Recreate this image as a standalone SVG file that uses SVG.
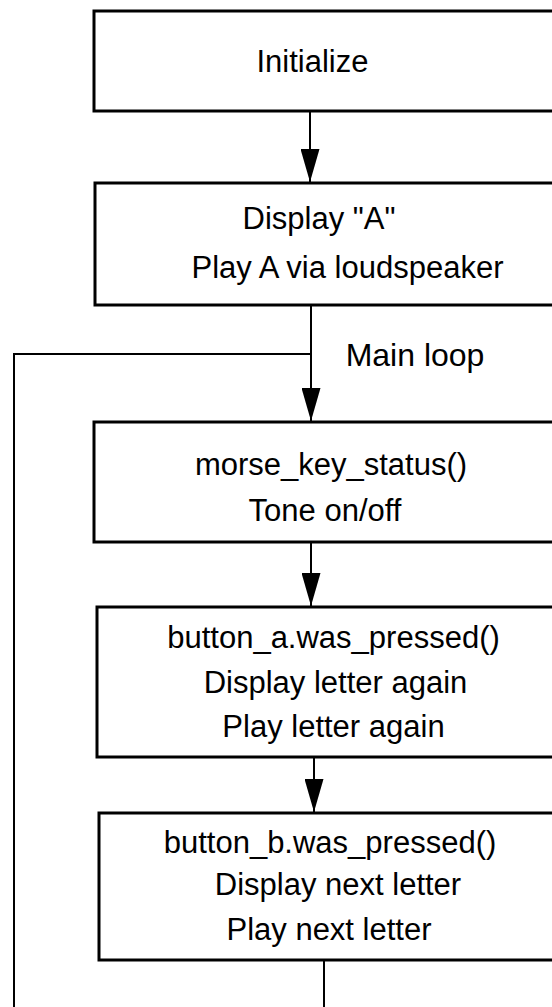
<svg xmlns="http://www.w3.org/2000/svg" width="552" height="1007" viewBox="0 0 552 1007">
  <style>
    .box { fill: #ffffff; stroke: #000000; stroke-width: 3; }
    .lbl { font-family: "Liberation Sans", Arial, sans-serif; font-size: 31px; fill: #000000; text-anchor: middle; }
    .conn { fill: none; stroke: #000000; stroke-width: 2; }
  </style>
  <defs>
    <marker id="arrow" markerUnits="userSpaceOnUse" viewBox="0 0 33 19" refX="33" refY="9.5" markerWidth="33" markerHeight="19" orient="auto">
      <path d="M0,0 L33,9.5 L0,19 Z" fill="#000000"/>
    </marker>
  </defs>
  <rect width="552" height="1007" fill="#ffffff"/>

  <g id="connectors">
    <line class="conn" x1="310" y1="111" x2="310" y2="182" marker-end="url(#arrow)"/>
    <line class="conn" x1="311" y1="305" x2="311" y2="421" marker-end="url(#arrow)"/>
    <polyline class="conn" points="311,354 14,354 14,1007"/>
    <line class="conn" x1="311" y1="542" x2="311" y2="606" marker-end="url(#arrow)"/>
    <line class="conn" x1="314" y1="757" x2="314" y2="812" marker-end="url(#arrow)"/>
    <line class="conn" x1="324" y1="960" x2="324" y2="1007"/>
    <text class="lbl" x="415" y="366" style="font-size:32px">Main loop</text>
  </g>

  <g id="initialize">
    <rect class="box" x="94" y="11" width="480" height="100"/>
    <text class="lbl" x="312.5" y="72">Initialize</text>
  </g>

  <g id="display-a">
    <rect class="box" x="95" y="183" width="480" height="122"/>
    <text class="lbl" x="319" y="229">Display "A"</text>
    <text class="lbl" x="347.5" y="278">Play A via loudspeaker</text>
  </g>

  <g id="morse-key-status">
    <rect class="box" x="94" y="422" width="480" height="120"/>
    <text class="lbl" x="331" y="475">morse_key_status()</text>
    <text class="lbl" x="325" y="521">Tone on/off</text>
  </g>

  <g id="button-a">
    <rect class="box" x="97" y="607" width="480" height="150"/>
    <text class="lbl" x="333.5" y="648">button_a.was_pressed()</text>
    <text class="lbl" x="335.5" y="693">Display letter again</text>
    <text class="lbl" x="333.5" y="737">Play letter again</text>
  </g>

  <g id="button-b">
    <rect class="box" x="99" y="813" width="480" height="147"/>
    <text class="lbl" x="330" y="853">button_b.was_pressed()</text>
    <text class="lbl" x="338" y="895">Display next letter</text>
    <text class="lbl" x="329" y="940">Play next letter</text>
  </g>
</svg>
